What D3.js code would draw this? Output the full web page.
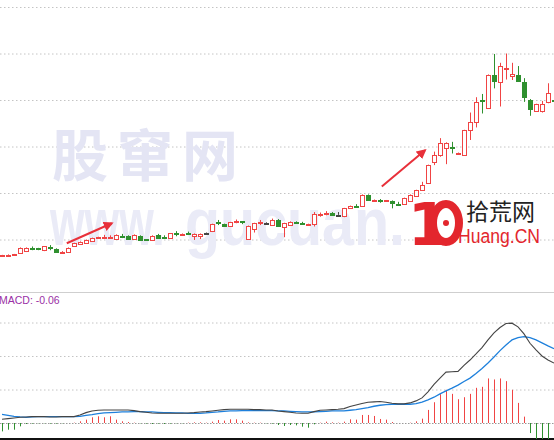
<!DOCTYPE html>

<head>
  <meta charset="utf-8">
  <script src="https://d3js.org/d3.v7.min.js"></script>
  <style>
    body { margin: 0; background: #fff; }
    svg { display: block; }
  </style>
</head>

<body>
  <script>
    var width = 554, height = 440;

    // daily candles
    var open = [5.65, 5.66, 5.67, 5.72, 5.74, 5.82, 5.81, 5.76, 5.83, 5.80,
      5.73, 5.74, 5.86, 5.90, 5.92, 5.97, 6.04, 6.05, 6.05, 6.02,
      6.08, 6.08, 6.01, 6.08, 6.01, 5.99, 6.10, 6.06, 6.03, 6.14,
      6.11, 6.14, 6.08, 6.08, 6.15, 6.17, 6.37, 6.33, 6.28, 6.39,
      6.39, 6.00, 6.22, 6.36, 6.35, 6.33, 6.43, 6.26, 6.31, 6.38,
      6.36, 6.32, 6.33, 6.54, 6.57, 6.58, 6.53, 6.49, 6.67, 6.73,
      6.72, 6.96, 6.84, 6.84, 6.83, 6.83, 6.77, 6.76, 6.83, 6.94,
      7.06, 7.21, 7.67, 7.82, 7.96, 7.98, 7.85, 7.82, 8.35, 8.53,
      8.99, 8.84, 9.54, 9.39, 9.67, 9.52, 9.54, 9.39, 9.01, 8.76,
      8.76, 8.94, 8.99];
    var close = [5.66, 5.67, 5.68, 5.82, 5.81, 5.81, 5.78, 5.85, 5.82, 5.74,
      5.74, 5.82, 5.92, 5.95, 5.99, 6.03, 6.05, 6.06, 6.06, 6.10,
      6.07, 6.01, 6.10, 6.00, 6.00, 6.08, 6.04, 6.05, 6.13, 6.13,
      6.12, 6.13, 6.12, 6.12, 6.15, 6.33, 6.36, 6.29, 6.37, 6.40,
      6.38, 6.29, 6.35, 6.37, 6.35, 6.43, 6.31, 6.35, 6.38, 6.37,
      6.35, 6.33, 6.54, 6.55, 6.58, 6.54, 6.53, 6.67, 6.72, 6.72,
      6.96, 6.85, 6.85, 6.83, 6.84, 6.78, 6.76, 6.89, 6.96, 7.06,
      7.17, 7.60, 7.82, 8.08, 8.07, 7.96, 7.86, 8.35, 8.53, 8.96,
      8.97, 9.54, 9.41, 9.73, 9.69, 9.56, 9.41, 9.06, 8.82, 8.91,
      8.91, 9.14, 8.98];
    var high = [5.67, 5.68, 5.69, 5.83, 5.83, 5.85, 5.82, 5.86, 5.88, 5.81,
      5.75, 5.83, 5.93, 5.96, 6.00, 6.04, 6.06, 6.10, 6.09, 6.11,
      6.12, 6.09, 6.11, 6.09, 6.01, 6.09, 6.12, 6.09, 6.14, 6.18,
      6.13, 6.17, 6.13, 6.13, 6.15, 6.34, 6.42, 6.34, 6.38, 6.43,
      6.39, 6.30, 6.36, 6.42, 6.37, 6.45, 6.44, 6.36, 6.39, 6.39,
      6.38, 6.34, 6.59, 6.58, 6.61, 6.59, 6.59, 6.68, 6.73, 6.76,
      6.97, 6.97, 6.86, 6.87, 6.85, 6.84, 6.81, 6.90, 6.97, 7.07,
      7.24, 7.61, 7.89, 8.18, 8.09, 8.10, 7.87, 8.36, 8.73, 9.06,
      9.13, 9.55, 9.99, 9.80, 10.00, 9.80, 9.73, 9.47, 9.02, 8.92,
      8.98, 9.36, 9.00];
    var low = [5.64, 5.65, 5.66, 5.71, 5.73, 5.77, 5.77, 5.75, 5.77, 5.73,
      5.72, 5.73, 5.85, 5.89, 5.91, 5.96, 6.03, 6.01, 6.02, 6.01,
      6.03, 6.00, 6.00, 5.99, 5.99, 5.98, 6.03, 6.02, 6.02, 6.07,
      6.10, 6.10, 5.99, 6.01, 6.11, 6.16, 6.31, 6.28, 6.27, 6.35,
      6.33, 5.99, 6.15, 6.31, 6.33, 6.32, 6.30, 6.05, 6.30, 6.36,
      6.32, 6.31, 6.28, 6.49, 6.52, 6.53, 6.53, 6.48, 6.66, 6.68,
      6.71, 6.84, 6.83, 6.79, 6.82, 6.67, 6.72, 6.75, 6.82, 6.93,
      7.05, 7.20, 7.60, 7.78, 7.62, 7.85, 7.84, 7.81, 8.14, 8.41,
      8.71, 8.83, 9.25, 8.86, 9.44, 9.43, 9.39, 8.96, 8.66, 8.75,
      8.73, 8.93, 8.97];

    // MACD panel
    var dif = [0.011, 0.013, 0.015, 0.017, 0.018, 0.019, 0.019, 0.019, 0.018, 0.018,
      0.019, 0.019, 0.019, 0.024, 0.031, 0.036, 0.038, 0.039, 0.039, 0.039,
      0.039, 0.039, 0.037, 0.034, 0.032, 0.030, 0.029, 0.029, 0.029, 0.029,
      0.029, 0.030, 0.031, 0.033, 0.034, 0.036, 0.038, 0.040, 0.041, 0.041,
      0.041, 0.041, 0.040, 0.040, 0.039, 0.039, 0.036, 0.034, 0.032, 0.030,
      0.029, 0.029, 0.034, 0.038, 0.039, 0.040, 0.041, 0.043, 0.049, 0.054,
      0.058, 0.062, 0.063, 0.064, 0.062, 0.059, 0.057, 0.057, 0.060, 0.066,
      0.075, 0.093, 0.115, 0.134, 0.152, 0.153, 0.154, 0.172, 0.188, 0.206,
      0.225, 0.248, 0.269, 0.285, 0.297, 0.298, 0.287, 0.266, 0.238, 0.218,
      0.200, 0.188, 0.179];
    var dea = [0.026, 0.023, 0.020, 0.018, 0.017, 0.018, 0.019, 0.019, 0.019, 0.019,
      0.019, 0.019, 0.019, 0.020, 0.023, 0.025, 0.028, 0.030, 0.031, 0.032,
      0.033, 0.033, 0.034, 0.034, 0.033, 0.033, 0.032, 0.031, 0.031, 0.030,
      0.030, 0.029, 0.029, 0.029, 0.030, 0.032, 0.033, 0.035, 0.036, 0.036,
      0.037, 0.037, 0.037, 0.037, 0.037, 0.037, 0.036, 0.036, 0.035, 0.034,
      0.033, 0.033, 0.033, 0.034, 0.035, 0.036, 0.036, 0.036, 0.038, 0.040,
      0.043, 0.046, 0.050, 0.053, 0.055, 0.056, 0.056, 0.056, 0.056, 0.058,
      0.062, 0.069, 0.077, 0.087, 0.096, 0.104, 0.113, 0.124, 0.134, 0.148,
      0.163, 0.179, 0.197, 0.216, 0.233, 0.248, 0.255, 0.258, 0.255, 0.248,
      0.239, 0.230, 0.222];
    var hist = [-0.025, -0.020, -0.020, -0.010, -0.003, -0.002, -0.001, -0.001, -0.002, -0.002,
      -0.001, 0, 0.001, 0.005, 0.010, 0.017, 0.020, 0.017, 0.020, 0.010,
      0.005, 0.003, 0.001, -0.001, -0.002, -0.003, -0.002, -0.003, -0.002, -0.001,
      -0.001, 0.001, 0.002, 0.002, 0.001, 0.004, 0.009, 0.007, 0.011, 0.011,
      0.007, 0.002, 0.001, 0.001, -0.001, -0.002, -0.006, -0.009, -0.006, -0.007,
      -0.011, -0.014, -0.004, 0.001, 0.004, 0.002, 0.001, 0.004, 0.011, 0.010,
      0.024, 0.024, 0.021, 0.012, 0.010, 0.003, 0, 0, 0.001, 0.005,
      0.013, 0.039, 0.062, 0.086, 0.099, 0.087, 0.071, 0.077, 0.087, 0.105,
      0.108, 0.133, 0.130, 0.133, 0.125, 0.099, 0.060, 0.019, -0.030, -0.050,
      -0.055, -0.060, -0.060];

    var priceTicks = [6, 7, 8, 9, 10, 11];
    var macdTicks = [0.1, 0.2, 0.3];
    var macdLabel = 'MACD: -0.06';

    // arrows drawn on the price panel: [index, price]
    var arrowFrom = [[10.8, 5.92], [63.3, 7.14]];
    var arrowTo = [[18.3, 6.35], [70.5, 7.92]];

    var red = '#f04444', green = '#2f902f';

    var svg = d3.select('body').append('svg')
      .attr('width', width)
      .attr('height', height)
      .style('font-family', '"Liberation Sans", Arial, sans-serif');

    var defs = svg.append('defs');
    defs.append('clipPath').attr('id', 'clipTop')
      .append('rect').attr('x', 0).attr('y', 0).attr('width', width).attr('height', 291);
    defs.append('clipPath').attr('id', 'clipBot')
      .append('rect').attr('x', 0).attr('y', 293).attr('width', width).attr('height', 146);
    defs.append('marker')
      .attr('id', 'head')
      .attr('viewBox', '0 0 10 10')
      .attr('refX', 8).attr('refY', 5)
      .attr('markerWidth', 5).attr('markerHeight', 5)
      .attr('orient', 'auto')
      .append('path').attr('d', 'M0,0L10,5L0,10z').attr('fill', '#e8303a');

    var n = open.length;
    var x = d3.scaleBand().domain(d3.range(n)).range([-1, 557]);
    var bw = x.bandwidth();
    var xc = i => x(i) + bw / 2;
    var xl = d3.scaleLinear().domain([0, n - 1]).range([xc(0), xc(n - 1)]);
    var y = d3.scaleLinear().domain([6, 11]).range([239.5, 7]);
    var ym = d3.scaleLinear().domain([0, 0.3]).range([423, 322.5]);

    // gridlines
    var gTop = svg.append('g')
      .call(d3.axisLeft(y).tickValues(priceTicks).tickSize(-width).tickFormat(''));
    gTop.select('.domain').remove();
    gTop.selectAll('line').attr('stroke', '#c4c4c4').attr('stroke-dasharray', '1.5,2.5');

    var gBot = svg.append('g')
      .call(d3.axisLeft(ym).tickValues(macdTicks).tickSize(-width).tickFormat(''));
    gBot.select('.domain').remove();
    gBot.selectAll('line').attr('stroke', '#c4c4c4').attr('stroke-dasharray', '1.5,2.5');

    svg.append('line').attr('x1', 0).attr('x2', width)
      .attr('y1', Math.round(ym(0)) + 0.5).attr('y2', Math.round(ym(0)) + 0.5)
      .attr('stroke', '#999').attr('stroke-dasharray', '1.5,1.5');

    // panel borders
    svg.append('line').attr('x1', 0).attr('x2', width).attr('y1', 292.5).attr('y2', 292.5)
      .attr('stroke', '#cfcfcf');
    svg.append('line').attr('x1', 0).attr('x2', width).attr('y1', 439).attr('y2', 439)
      .attr('stroke', '#111').attr('stroke-width', 2);

    // watermark
    var wm = svg.append('g').style('pointer-events', 'none');
    wm.append('text')
      .attr('x', 52).attr('y', 176)
      .style('font-family', '"Noto Sans CJK SC"')
      .style('font-weight', 700)
      .style('font-size', '56px')
      .style('letter-spacing', '9px')
      .attr('fill', '#e4e5f4')
      .text('股窜网');
    wm.append('text')
      .attr('transform', 'translate(50,245) scale(0.674,1)')
      .style('font-weight', 700).style('font-size', '66px')
      .attr('fill', '#eaebf7')
      .text('www.');
    wm.append('text')
      .attr('transform', 'translate(185,245) scale(0.87,1)')
      .style('font-weight', 700).style('font-size', '66px')
      .attr('fill', '#eaebf7')
      .text('gucuan.');

    // candles
    var main = svg.append('g').attr('clip-path', 'url(#clipTop)');
    var c = main.selectAll('g.candle').data(d3.range(n)).enter().append('g').attr('class', 'candle');

    function col(i) {
      if (close[i] > open[i]) return red;
      if (close[i] < open[i]) return green;
      return '#444';
    }

    c.append('line')
      .attr('x1', i => Math.round(xc(i)) + 0.5).attr('x2', i => Math.round(xc(i)) + 0.5)
      .attr('y1', i => y(high[i])).attr('y2', i => y(low[i]))
      .attr('stroke', col);

    c.append('rect')
      .attr('x', i => Math.round(xc(i)) - 1.5)
      .attr('width', 4)
      .attr('y', i => Math.round(y(Math.max(open[i], close[i]))) + 0.5)
      .attr('height', i => Math.max(1, Math.round(Math.abs(y(open[i]) - y(close[i])))))
      .attr('fill', i => close[i] > open[i] ? '#fff' : col(i))
      .attr('stroke', col);

    // arrows
    main.selectAll('line.arrow').data(arrowFrom).enter().append('line')
      .attr('class', 'arrow')
      .attr('x1', d => xl(d[0])).attr('y1', d => y(d[1]))
      .attr('x2', (d, k) => xl(arrowTo[k][0])).attr('y2', (d, k) => y(arrowTo[k][1]))
      .attr('stroke', '#e8303a').attr('stroke-width', 2)
      .attr('marker-end', 'url(#head)');

    // logo
    var logo = svg.append('g');
    logo.append('text')
      .attr('x', 408).attr('y', 245)
      .style('font-family', '"DejaVu Sans"').style('font-weight', 700).style('font-size', '58px')
      .attr('fill', '#e3262d')
      .text('1');
    logo.append('ellipse')
      .attr('cx', 446).attr('cy', 223).attr('rx', 13).attr('ry', 19)
      .attr('fill', '#fff').attr('stroke', '#e3262d').attr('stroke-width', 8);
    logo.append('circle').attr('cx', 446).attr('cy', 223).attr('r', 3).attr('fill', '#e3262d');
    logo.append('text')
      .attr('x', 466).attr('y', 220)
      .style('font-family', '"Noto Sans CJK SC"').style('font-size', '23px')
      .attr('fill', '#222')
      .text('拾荒网');
    logo.append('text')
      .attr('x', 458).attr('y', 243)
      .attr('textLength', 82).attr('lengthAdjust', 'spacingAndGlyphs')
      .style('font-size', '20px')
      .attr('fill', '#e3262d')
      .text('Huang.CN');

    // MACD
    var bot = svg.append('g').attr('clip-path', 'url(#clipBot)');
    bot.selectAll('line.bar').data(d3.range(n)).enter().append('line')
      .attr('class', 'bar')
      .attr('x1', i => Math.round(xc(i)) + 0.5).attr('x2', i => Math.round(xc(i)) + 0.5)
      .attr('y1', ym(0)).attr('y2', i => ym(hist[i]))
      .attr('stroke', i => hist[i] >= 0 ? red : green)
      .attr('stroke-width', 1);

    var line = d3.line().x((d, i) => xc(i)).y(d => ym(d));
    bot.append('path').datum(dea).attr('d', line)
      .attr('fill', 'none').attr('stroke', '#1e80dc').attr('stroke-width', 1.3);
    bot.append('path').datum(dif).attr('d', line)
      .attr('fill', 'none').attr('stroke', '#444').attr('stroke-width', 1.1);

    svg.append('text')
      .attr('x', -1).attr('y', 304)
      .style('font-size', '10.5px')
      .attr('fill', '#9a2fa5')
      .text(macdLabel);
  </script>
</body>
